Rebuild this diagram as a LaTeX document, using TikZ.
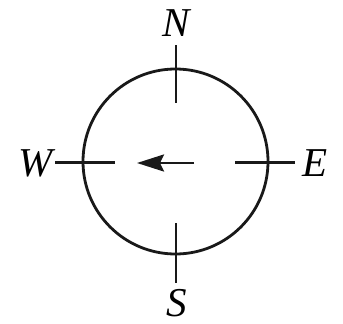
\documentclass[tikz,border=0pt]{standalone}
\usepackage{fontspec}
\setmainfont{Liberation Serif}[ItalicFont={Liberation Serif Italic}]
\usetikzlibrary{arrows.meta}
\begin{document}
\begin{tikzpicture}[x=1pt,y=-1pt,
  ln/.style={line width=2.8pt,black!90},
  lbl/.style={font=\fontsize{41}{48}\selectfont\itshape,inner sep=0pt}]
\useasboundingbox (0,0) rectangle (343,324);
\coordinate (c) at (175.5,161.5);
\draw[ln] (c) circle (92.5);
\coordinate (nt) at (176,45); \coordinate (nb) at (176,103);
\coordinate (st) at (176,223); \coordinate (sb) at (176,283);
\coordinate (wl) at (55,162.5); \coordinate (wr) at (115,162.5);
\coordinate (el) at (235,162.5); \coordinate (er) at (295,162.5);
\draw[ln] (nt) -- (nb);
\draw[ln] (st) -- (sb);
\draw[ln] (wl) -- (wr);
\draw[ln] (el) -- (er);
\node[lbl] (N) at (176,23) {N};
\node[lbl] (S) at (177,303) {S};
\node[lbl] (W) at (36,163) {W};
\node[lbl] (E) at (315,163) {E};
\coordinate (as) at (194,163);
\coordinate (ae) at (137,163);
\draw[ln,-{Stealth[length=27pt,width=17pt,inset=4pt]}] (as) -- (ae);
\end{tikzpicture}
\end{document}
